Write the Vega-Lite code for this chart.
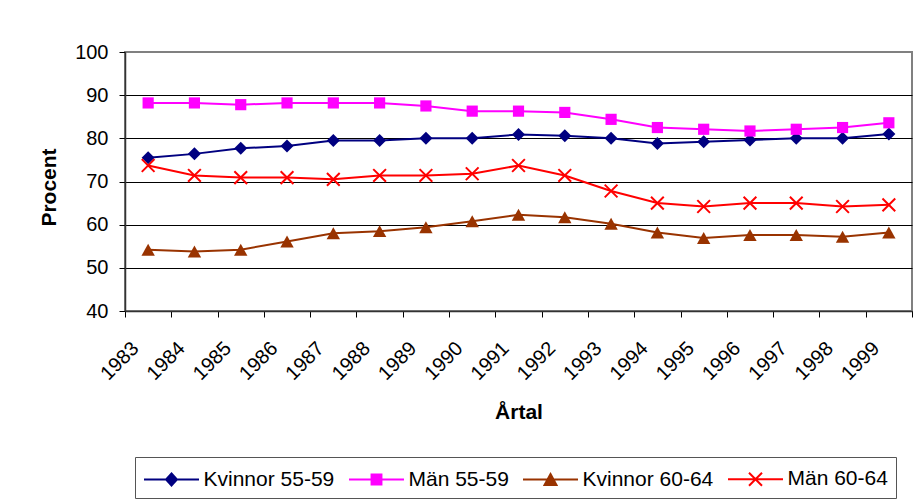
{
  "$schema": "https://vega.github.io/schema/vega-lite/v6.json",
  "width": 787,
  "height": 259,
  "autosize": {"type": "none"},
  "padding": {"left": 125, "top": 52, "right": 10, "bottom": 192},
  "background": "white",
  "config": {
    "font": "Liberation Sans",
    "view": {"stroke": "#808080", "strokeWidth": 2}
  },
  "data": {
    "values": [
      {"year": "1983", "series": "Kvinnor 55-59", "value": 75.5},
      {"year": "1984", "series": "Kvinnor 55-59", "value": 76.4},
      {"year": "1985", "series": "Kvinnor 55-59", "value": 77.7},
      {"year": "1986", "series": "Kvinnor 55-59", "value": 78.2},
      {"year": "1987", "series": "Kvinnor 55-59", "value": 79.5},
      {"year": "1988", "series": "Kvinnor 55-59", "value": 79.5},
      {"year": "1989", "series": "Kvinnor 55-59", "value": 80.0},
      {"year": "1990", "series": "Kvinnor 55-59", "value": 80.0},
      {"year": "1991", "series": "Kvinnor 55-59", "value": 80.9},
      {"year": "1992", "series": "Kvinnor 55-59", "value": 80.6},
      {"year": "1993", "series": "Kvinnor 55-59", "value": 80.0},
      {"year": "1994", "series": "Kvinnor 55-59", "value": 78.8},
      {"year": "1995", "series": "Kvinnor 55-59", "value": 79.2},
      {"year": "1996", "series": "Kvinnor 55-59", "value": 79.6},
      {"year": "1997", "series": "Kvinnor 55-59", "value": 80.0},
      {"year": "1998", "series": "Kvinnor 55-59", "value": 80.0},
      {"year": "1999", "series": "Kvinnor 55-59", "value": 81.0},
      {"year": "1983", "series": "Män 55-59", "value": 88.2},
      {"year": "1984", "series": "Män 55-59", "value": 88.2},
      {"year": "1985", "series": "Män 55-59", "value": 87.8},
      {"year": "1986", "series": "Män 55-59", "value": 88.2},
      {"year": "1987", "series": "Män 55-59", "value": 88.2},
      {"year": "1988", "series": "Män 55-59", "value": 88.2},
      {"year": "1989", "series": "Män 55-59", "value": 87.5},
      {"year": "1990", "series": "Män 55-59", "value": 86.3},
      {"year": "1991", "series": "Män 55-59", "value": 86.3},
      {"year": "1992", "series": "Män 55-59", "value": 86.0},
      {"year": "1993", "series": "Män 55-59", "value": 84.4},
      {"year": "1994", "series": "Män 55-59", "value": 82.5},
      {"year": "1995", "series": "Män 55-59", "value": 82.1},
      {"year": "1996", "series": "Män 55-59", "value": 81.7},
      {"year": "1997", "series": "Män 55-59", "value": 82.1},
      {"year": "1998", "series": "Män 55-59", "value": 82.5},
      {"year": "1999", "series": "Män 55-59", "value": 83.6},
      {"year": "1983", "series": "Kvinnor 60-64", "value": 54.2},
      {"year": "1984", "series": "Kvinnor 60-64", "value": 53.8},
      {"year": "1985", "series": "Kvinnor 60-64", "value": 54.2},
      {"year": "1986", "series": "Kvinnor 60-64", "value": 56.1},
      {"year": "1987", "series": "Kvinnor 60-64", "value": 58.0},
      {"year": "1988", "series": "Kvinnor 60-64", "value": 58.5},
      {"year": "1989", "series": "Kvinnor 60-64", "value": 59.4},
      {"year": "1990", "series": "Kvinnor 60-64", "value": 60.8},
      {"year": "1991", "series": "Kvinnor 60-64", "value": 62.3},
      {"year": "1992", "series": "Kvinnor 60-64", "value": 61.7},
      {"year": "1993", "series": "Kvinnor 60-64", "value": 60.2},
      {"year": "1994", "series": "Kvinnor 60-64", "value": 58.2},
      {"year": "1995", "series": "Kvinnor 60-64", "value": 56.9},
      {"year": "1996", "series": "Kvinnor 60-64", "value": 57.6},
      {"year": "1997", "series": "Kvinnor 60-64", "value": 57.6},
      {"year": "1998", "series": "Kvinnor 60-64", "value": 57.2},
      {"year": "1999", "series": "Kvinnor 60-64", "value": 58.2},
      {"year": "1983", "series": "Män 60-64", "value": 73.7},
      {"year": "1984", "series": "Män 60-64", "value": 71.4},
      {"year": "1985", "series": "Män 60-64", "value": 70.9},
      {"year": "1986", "series": "Män 60-64", "value": 70.9},
      {"year": "1987", "series": "Män 60-64", "value": 70.5},
      {"year": "1988", "series": "Män 60-64", "value": 71.4},
      {"year": "1989", "series": "Män 60-64", "value": 71.4},
      {"year": "1990", "series": "Män 60-64", "value": 71.8},
      {"year": "1991", "series": "Män 60-64", "value": 73.7},
      {"year": "1992", "series": "Män 60-64", "value": 71.4},
      {"year": "1993", "series": "Män 60-64", "value": 67.8},
      {"year": "1994", "series": "Män 60-64", "value": 65.0},
      {"year": "1995", "series": "Män 60-64", "value": 64.2},
      {"year": "1996", "series": "Män 60-64", "value": 65.0},
      {"year": "1997", "series": "Män 60-64", "value": 65.0},
      {"year": "1998", "series": "Män 60-64", "value": 64.2},
      {"year": "1999", "series": "Män 60-64", "value": 64.6}
    ]
  },
  "encoding": {
    "x": {
      "field": "year",
      "type": "ordinal",
      "bandPosition": 0.5,
      "scale": {"type": "band", "paddingInner": 0, "paddingOuter": 0},
      "axis": {
        "title": "Årtal",
        "titleFont": "Liberation Sans",
        "titleFontSize": 21,
        "titleFontWeight": "bold",
        "titleColor": "black",
        "titleBaseline": "alphabetic",
        "titleX": 393.5,
        "titleY": 107,
        "labelAngle": -45,
        "labelAlign": "right",
        "labelBaseline": "middle",
        "labelFontSize": 20,
        "labelColor": "black",
        "labelPadding": 28,
        "labelOffset": -13,
        "tickBand": "extent",
        "tickSize": 6,
        "tickColor": "black",
        "domainColor": "#333333",
        "domainWidth": 1.5,
        "grid": false
      }
    },
    "y": {
      "field": "value",
      "type": "quantitative",
      "scale": {"domain": [40, 100], "nice": false, "zero": false},
      "axis": {
        "title": "Procent",
        "titleFont": "Liberation Sans",
        "titleFontSize": 21,
        "titleFontWeight": "bold",
        "titleColor": "black",
        "titleAngle": -90,
        "titleAlign": "center",
        "titleBaseline": "alphabetic",
        "titleX": -70,
        "titleY": 135,
        "values": [40, 50, 60, 70, 80, 90, 100],
        "labelFontSize": 20,
        "labelColor": "black",
        "labelPadding": 11,
        "tickSize": 6,
        "tickColor": "black",
        "domainColor": "#333333",
        "domainWidth": 1.5,
        "grid": true,
        "gridColor": {"condition": {"test": "datum.value === 100", "value": "transparent"}, "value": "black"},
        "gridWidth": 1
      }
    },
    "color": {
      "field": "series",
      "type": "nominal",
      "scale": {
        "domain": ["Kvinnor 55-59", "Män 55-59", "Kvinnor 60-64", "Män 60-64"],
        "range": ["#000080", "#FF00FF", "#993300", "#FF0000"]
      },
      "legend": {
        "title": null,
        "orient": "none",
        "legendX": 10,
        "legendY": 405,
        "direction": "horizontal",
        "columns": 4,
        "columnPadding": 10,
        "padding": 8,
        "strokeColor": "#555555",
        "fillColor": "white",
        "labelFont": "Liberation Sans",
        "labelFontSize": 21,
        "labelColor": "black",
        "labelLimit": 0,
        "labelOffset": 18,
        "symbolSize": 676,
        "symbolOffset": 14.5,
        "symbolStrokeWidth": 2,
        "encode": {
          "symbols": {
            "update": {
              "shape": {"signal": "datum.value === 'Kvinnor 55-59' ? 'M-2.115,0H2.115M0,-0.46L0.42,0L0,0.46L-0.42,0Z' : datum.value === 'Män 55-59' ? 'M-2.115,0H2.115M-0.38,-0.38H0.38V0.38H-0.38Z' : datum.value === 'Kvinnor 60-64' ? 'M-2.115,0H2.115M0,-0.42L0.46,0.42L-0.46,0.42Z' : 'M-2.115,0H2.115M-0.5,-0.5L0.5,0.5M-0.5,0.5L0.5,-0.5'"},
              "fill": {"signal": "scale('color', datum.value)"},
              "stroke": {"signal": "scale('color', datum.value)"},
              "strokeWidth": {"value": 2},
              "opacity": {"value": 1},
              "size": {"value": 676}
            }
          }
        }
      }
    }
  },
  "layer": [
    {"mark": {"type": "line", "strokeWidth": 2}},
    {
      "transform": [{"filter": "datum.series !== 'Män 60-64'"}],
      "mark": {"type": "point", "filled": true, "opacity": 1, "size": 169},
      "encoding": {
        "shape": {
          "field": "series",
          "type": "nominal",
          "scale": {
            "domain": ["Kvinnor 55-59", "Män 55-59", "Kvinnor 60-64"],
            "range": ["M0,-1L1,0L0,1L-1,0Z", "M-0.86,-0.86H0.86V0.86H-0.86Z", "M0,-0.92L1.03,0.92L-1.03,0.92Z"]
          },
          "legend": null
        }
      }
    },
    {
      "transform": [{"filter": "datum.series === 'Män 60-64'"}],
      "mark": {"type": "point", "filled": false, "opacity": 1, "size": 169, "strokeWidth": 2, "shape": "M-0.98,-0.98L0.98,0.98M-0.98,0.98L0.98,-0.98"}
    }
  ]
}
